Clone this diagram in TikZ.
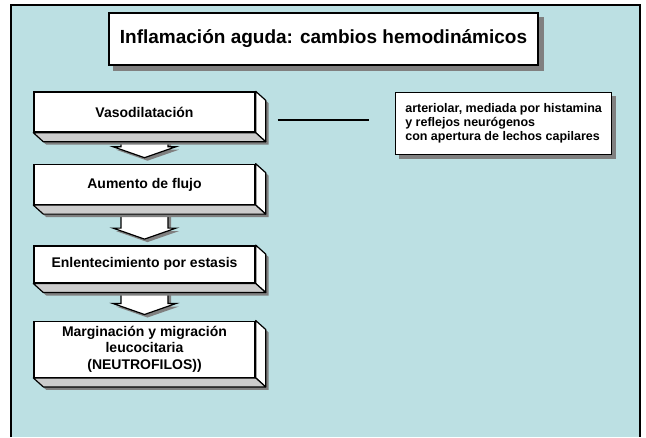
\documentclass[tikz,border=0pt]{standalone}
\usepackage{fontspec}
\setmainfont{Liberation Sans}
\usetikzlibrary{calc,positioning}
\definecolor{fondo}{RGB}{188,224,227}
\definecolor{sombra}{RGB}{128,128,128}
\definecolor{cara}{RGB}{204,204,204}
\pgfdeclarelayer{lienzo}
\pgfdeclarelayer{background}
\pgfsetlayers{lienzo,background,main}
\tikzset{
  every node/.style={font=\bfseries},
  bloque/.style={draw, fill=white, line width=1.4pt, align=center, minimum width=221pt, inner sep=0pt, font=\fontsize{14}{16.5}\selectfont\bfseries},
  titulo/.style={draw, fill=white, line width=1.4pt, minimum width=429pt, minimum height=52pt, inner sep=0pt, font=\fontsize{19}{22}\selectfont\bfseries},
  nota/.style={draw, fill=white, line width=1.2pt, align=left, minimum width=216pt, minimum height=62pt, inner sep=5pt, font=\fontsize{12.5}{14}\selectfont\bfseries},
  flecha/.style={draw, fill=white, line width=1.2pt, line join=miter},
  sombreado/.style={fill=sombra},
  cara lateral/.style={draw, fill=white, line width=1.2pt, line join=round},
  cara inferior/.style={draw, fill=cara, line width=1.2pt, line join=round}
}
\begin{document}
\begin{tikzpicture}[x=1pt, y=-1pt]
\useasboundingbox (0,0) rectangle (646,437);

% Title
\node[titulo] (titulo) at (323.5,39) {Inflamación aguda: cambios hemodinámicos};

% Flow of steps
\node[bloque, minimum height=40pt] (vaso) at (144.5,112) {Vasodilatación};
\node[bloque, minimum height=40pt, below=31pt of vaso] (flujo) {Aumento de flujo};
\node[bloque, minimum height=37pt, below=40pt of flujo] (estasis) {Enlentecimiento por estasis};
\node[bloque, minimum height=56pt, below=37pt of estasis] (margen) {Marginación y migración\\leucocitaria\\(NEUTROFILOS))};

% Side note
\node[nota, anchor=north west] (nota) at (395,92) {arteriolar, mediada por histamina\\y reflejos neurógenos\\con apertura de lechos capilares};
\coordinate (enlace) at ($(vaso.east)+(22,8)$);
\draw[line width=1.8pt] (enlace) -- ([xshift=-26pt]enlace -| nota.west);

\begin{pgfonlayer}{lienzo}
  \fill[fondo] (11,5) rectangle (640,437);
  \draw[line width=2pt] (11,437) -- (11,5) -- (640,5) -- (640,437);
\end{pgfonlayer}

\begin{pgfonlayer}{background}
  % shadows of title and note
  \fill[sombra] ($(titulo.north west)+(5,5)$) rectangle ($(titulo.south east)+(5,5)$);
  \fill[sombra] ($(nota.north west)+(4,4)$) rectangle ($(nota.south east)+(4,4)$);
  % block arrows between steps
  \foreach \a/\b in {vaso/flujo,flujo/estasis,estasis/margen}{
    \foreach \o/\estilo in {3/sombreado,0/flecha}{
      \path[\estilo] ($(\a.south)+(-23.5+\o,-4+\o)$) -- ($(\a.south)+(23.5+\o,-4+\o)$)
        -- ($(\b.north)+(23.5+\o,-17+\o)$) -- ($(\b.north)+(31.5+\o,-17+\o)$)
        -- ($(\b.north)+(\o,-6+\o)$) -- ($(\b.north)+(-31.5+\o,-17+\o)$)
        -- ($(\b.north)+(-23.5+\o,-17+\o)$) -- cycle;
    }
  }
  % 3D faces of the steps
  \foreach \b in {vaso,flujo,estasis,margen}{
    \fill[sombra] ($(\b.north east)+(3,3)$) -- ($(\b.north east)+(13,12)$)
      -- ($(\b.south east)+(13,12)$) -- ($(\b.south west)+(13,12)$)
      -- ($(\b.south west)+(3,3)$) -- cycle;
    \path[cara lateral] (\b.north east) -- ++(10,9) -- ($(\b.south east)+(10,9)$) -- (\b.south east) -- cycle;
    \path[cara inferior] (\b.south west) -- ++(10,9) -- ($(\b.south east)+(10,9)$) -- (\b.south east) -- cycle;
  }
\end{pgfonlayer}
\end{tikzpicture}
\end{document}
